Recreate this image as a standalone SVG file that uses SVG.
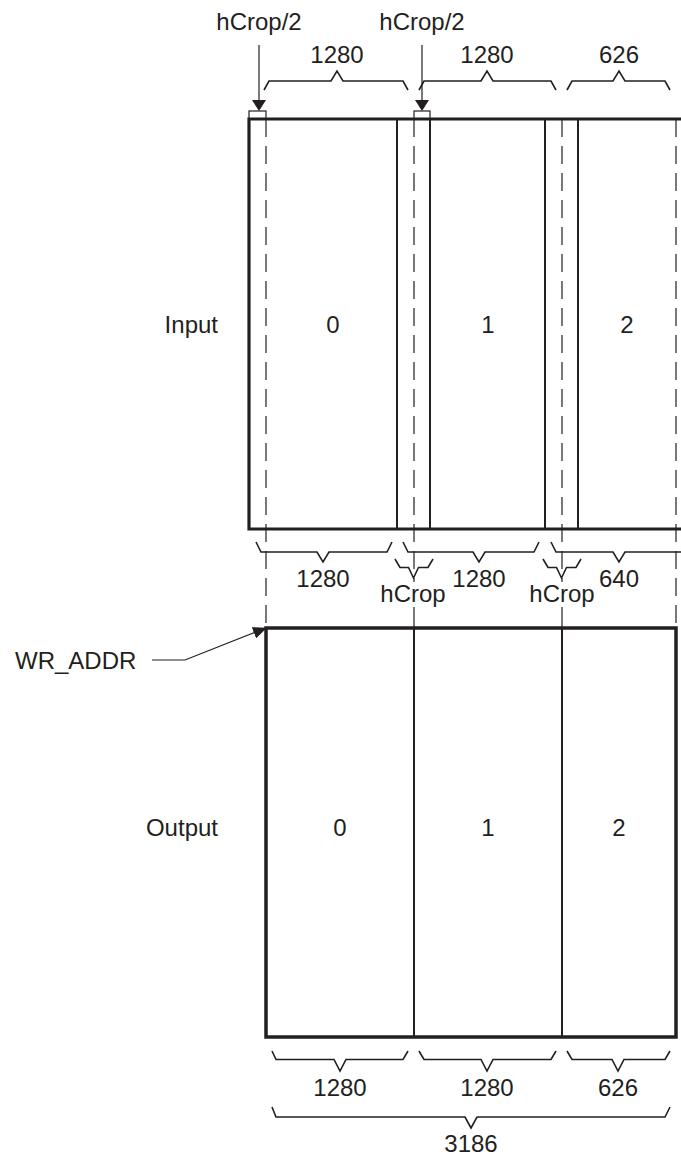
<svg xmlns="http://www.w3.org/2000/svg" width="681" height="1156" viewBox="0 0 681 1156">
<style>
  text { font-family: "Liberation Sans", Arial, sans-serif; font-size: 24px; fill: #231f20; }
  .mid { text-anchor: middle; }
  .end { text-anchor: end; }
  .frame { fill: none; stroke: #231f20; stroke-width: 3.2; }
  .div { stroke: #231f20; stroke-width: 2; fill: none; }
  .brace { fill: none; stroke: #231f20; stroke-width: 1.6; stroke-linejoin: miter; }
  .dash { stroke: #231f20; stroke-width: 1.2; stroke-dasharray: 18 9; fill: none; }
  .thin { stroke: #231f20; stroke-width: 1.2; fill: none; }
</style>
<defs>
  <marker id="ah" markerWidth="14" markerHeight="12" refX="13" refY="6" orient="auto" markerUnits="userSpaceOnUse">
    <path d="M0,0 L14,6 L0,12 Z" fill="#231f20"/>
  </marker>
</defs>
<rect width="681" height="1156" fill="#ffffff"/>

<g id="input">
  <path class="frame" d="M690,119 L249,119 L249,529 L690,529"/>
  <line class="div" x1="397" y1="119" x2="397" y2="529"/>
  <line class="div" x1="430" y1="119" x2="430" y2="529"/>
  <line class="div" x1="545" y1="119" x2="545" y2="529"/>
  <line class="div" x1="578" y1="119" x2="578" y2="529"/>
  <text class="end" x="218" y="333">Input</text>
  <text class="mid" x="333" y="333">0</text>
  <text class="mid" x="488" y="333">1</text>
  <text class="mid" x="627" y="333">2</text>
</g>

<g id="output">
  <rect class="frame" x="266" y="628" width="410" height="409" style="stroke-width:3.5"/>
  <line class="div" x1="414" y1="628" x2="414" y2="1037"/>
  <line class="div" x1="562" y1="628" x2="562" y2="1037"/>
  <text class="end" x="218" y="836">Output</text>
  <text class="mid" x="340" y="836">0</text>
  <text class="mid" x="488" y="836">1</text>
  <text class="mid" x="619" y="836">2</text>
</g>

<g id="hcrop-markers">
  <rect class="thin" x="249" y="111" width="17" height="8"/>
  <rect class="thin" x="414" y="111" width="16" height="8"/>
  <text class="mid" x="259" y="30">hCrop/2</text>
  <text class="mid" x="422" y="30">hCrop/2</text>
</g>

<g id="wr-addr">
  <text x="15" y="669">WR_ADDR</text>
</g>

<g id="connectors">
  <!-- hCrop/2 arrows -->
  <line class="thin" x1="259" y1="45" x2="259" y2="101"/>
  <polygon points="252,100 266,100 259,111" fill="#231f20"/>
  <line class="thin" x1="422" y1="45" x2="422" y2="101"/>
  <polygon points="415,100 429,100 422,111" fill="#231f20"/>

  <!-- WR_ADDR pointer -->
  <polyline class="thin" points="152,660 185,660 266,628" marker-end="url(#ah)"/>

  <!-- dashed guide lines -->
  <line class="dash" x1="266" y1="119" x2="266" y2="628"/>
  <line class="dash" x1="414" y1="119" x2="414" y2="582"/>
  <line class="thin" x1="414" y1="607" x2="414" y2="628"/>
  <line class="dash" x1="562" y1="119" x2="562" y2="582"/>
  <line class="thin" x1="562" y1="607" x2="562" y2="628"/>
  <line class="dash" x1="676" y1="119" x2="676" y2="628"/>

  <!-- top braces -->
  <polyline class="brace" points="264,90 269,81 331,81 337,71 343,81 403,81 408,90"/>
  <polyline class="brace" points="419,90 424,81 481,81 487,71 493,81 551,81 556,90"/>
  <polyline class="brace" points="567,90 572,81 613,81 619,71 625,81 665,81 670,90"/>
  <text class="mid" x="337" y="63">1280</text>
  <text class="mid" x="487" y="63">1280</text>
  <text class="mid" x="619" y="63">626</text>

  <!-- middle braces -->
  <polyline class="brace" points="256,542 261,552 317,552 323,562 329,552 387,552 392,542"/>
  <polyline class="brace" points="403,542 408,552 473,552 479,562 485,552 534,552 539,542"/>
  <polyline class="brace" points="551,542 556,552 613,552 619,562 625,552 682,552 687,542"/>
  <polyline class="brace" points="395,559 400,567.5 408.5,567.5 413.5,578 418.5,567.5 428,567.5 433,559"/>
  <polyline class="brace" points="543,559 548,567.5 556.5,567.5 561.5,578 566.5,567.5 576,567.5 581,559"/>
  <text class="mid" x="323" y="587">1280</text>
  <text class="mid" x="479" y="587">1280</text>
  <text class="mid" x="619" y="587">640</text>
  <text class="mid" x="413" y="602">hCrop</text>
  <text class="mid" x="562" y="602">hCrop</text>

  <!-- bottom braces -->
  <polyline class="brace" points="272,1051 276,1059.5 334,1059.5 340,1071 346,1059.5 403,1059.5 408,1051"/>
  <polyline class="brace" points="419,1051 424,1059.5 481,1059.5 487,1071 493,1059.5 551,1059.5 556,1051"/>
  <polyline class="brace" points="567,1051 572,1059.5 612,1059.5 618,1071 624,1059.5 665,1059.5 670,1051"/>
  <text class="mid" x="340" y="1096">1280</text>
  <text class="mid" x="487" y="1096">1280</text>
  <text class="mid" x="618" y="1096">626</text>
  <polyline class="brace" points="272,1107 276,1117 465,1117 471,1128 477,1117 665,1117 670,1107"/>
  <text class="mid" x="471" y="1152">3186</text>
</g>
</svg>
